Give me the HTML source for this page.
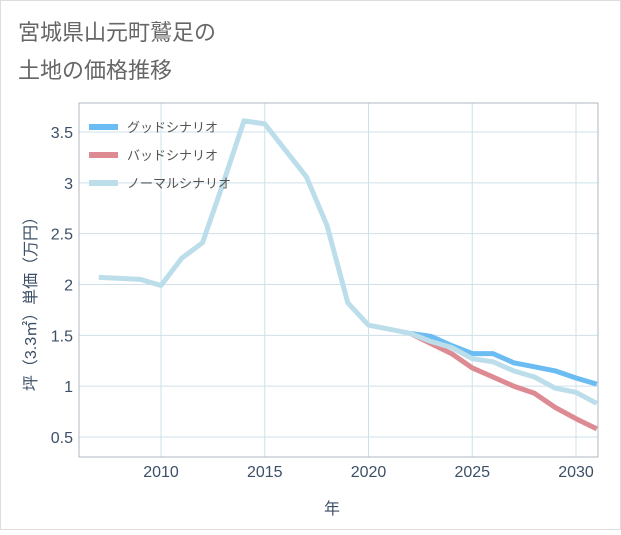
<!DOCTYPE html>
<html><head><meta charset="utf-8"><style>
body{margin:0;background:#fff;}
svg text{font-family:"Liberation Sans","Noto Sans CJK JP",sans-serif;}
</style></head><body>
<svg width="621" height="530" xmlns="http://www.w3.org/2000/svg">
<rect x="0.5" y="0.5" width="620" height="529" fill="#fff" stroke="#ddd"/>
<text x="18" y="40" font-size="22" fill="#666">宮城県山元町鷲足の</text>
<text x="18" y="78" font-size="22" fill="#666">土地の価格推移</text>
<g id="grid"></g>
<rect x="79" y="103" width="519" height="354" fill="none" stroke="#b0b8c0"/>
<g id="series"></g>
<g id="legend"></g>
<text transform="translate(36,300) rotate(-90)" text-anchor="middle" font-size="16" fill="#3d4f66">坪（3.3㎡）単価（万円）</text>
<text x="332" y="514" text-anchor="middle" font-size="16" fill="#3d4f66">年</text>
</svg>
<script>
const years=[2007,2008,2009,2010,2011,2012,2013,2014,2015,2016,2017,2018,2019,2020,2021,2022,2023,2024,2025,2026,2027,2028,2029,2030,2031];
const normal=[2.07,2.06,2.05,1.99,2.26,2.41,3.0,3.61,3.58,3.32,3.06,2.58,1.82,1.60,1.56,1.52,1.44,1.38,1.27,1.24,1.15,1.09,0.98,0.94,0.83];
const futureYears=[2022,2023,2024,2025,2026,2027,2028,2029,2030,2031];
const good=[1.52,1.49,1.40,1.32,1.32,1.23,1.19,1.15,1.08,1.02];
const bad=[1.52,1.42,1.32,1.18,1.09,1.00,0.93,0.79,0.68,0.58];
const xTicks=[2010,2015,2020,2025,2030];
const yTicks=[0.5,1,1.5,2,2.5,3,3.5];
const yTickLabels=["0.5","1","1.5","2","2.5","3","3.5"];
const NS="http://www.w3.org/2000/svg";
function xs(v){return 161+(v-2010)*20.75;}
function ys(v){return 437-(v-0.5)*101.67;}
function mk(tag,attrs,parent){const e=document.createElementNS(NS,tag);for(const k in attrs)e.setAttribute(k,attrs[k]);parent.appendChild(e);return e;}
const grid=document.getElementById('grid');
xTicks.forEach(t=>{
  const l=mk('line',{x1:xs(t),x2:xs(t),y1:103,y2:457,stroke:'#cfe0ea','stroke-width':1},grid);
  
  
  const tx=mk('text',{x:xs(t),y:477,'text-anchor':'middle','font-size':16,fill:'#3d4f66'},grid);
  tx.textContent=t;
  
  
});
yTicks.forEach((t,i)=>{
  const l=mk('line',{x1:79,x2:598,y1:ys(t),y2:ys(t),stroke:'#cfe0ea','stroke-width':1},grid);
  
  
  const tx=mk('text',{x:73,y:ys(t)+6,'text-anchor':'end','font-size':16,fill:'#3d4f66'},grid);
  tx.textContent=yTickLabels[i];
  
  
});
const series=document.getElementById('series');
function line(xv,yv,color,name){
  const pts=xv.map((x,i)=>xs(x).toFixed(1)+','+ys(yv[i]).toFixed(1)).join(' ');
  const p=mk('polyline',{points:pts,fill:'none',stroke:color,'stroke-width':5,'stroke-linejoin':'round'},series);
  
  
}
const cp=mk('clipPath',{id:'clip'},series);mk('rect',{x:79,y:103,width:519,height:354},cp);
series.setAttribute('clip-path','url(#clip)');
line(futureYears,good,'#6bbcf2','good-scenario-line');
line(futureYears,bad,'#de8a92','bad-scenario-line');
line(years,normal,'#bcdeeb','normal-scenario-line');
const legend=document.getElementById('legend');
[['グッドシナリオ','#6bbcf2','legend-good'],['バッドシナリオ','#de8a92','legend-bad'],['ノーマルシナリオ','#bcdeeb','legend-normal']].forEach((d,i)=>{
  const y=127+i*28;
  const g=mk('g',{},legend);
  
  
  mk('line',{x1:89,x2:118,y1:y,y2:y,stroke:d[1],'stroke-width':6},g);
  const t=mk('text',{x:127,y:y+5,'font-size':13,fill:'#555'},g);
  t.textContent=d[0];
});
</script>
</body></html>
